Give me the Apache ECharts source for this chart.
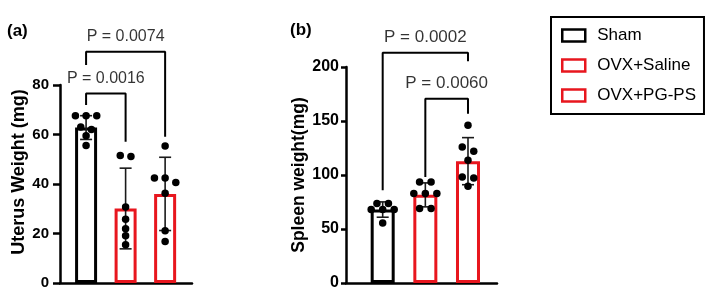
<!DOCTYPE html>
<html>
<head>
<meta charset="utf-8">
<script src="https://cdn.jsdelivr.net/npm/echarts@6/dist/echarts.min.js"></script>
<style>
  html, body { margin: 0; padding: 0; background: #fff; }
  #chart { width: 709px; height: 295px; }
</style>
</head>
<body>
<div id="chart"></div>
<script>
// groups shared by both panels
const GROUPS = ['Sham', 'OVX+Saline', 'OVX+PG-PS'];

// (a) uterus weight, mg
const uterusMean = [62.8, 30.1, 36.0];
const uterusSD = [4.8, 16.3, 14.8];
const uterusPoints = [
  [67.6, 67.6, 67.6, 63.0, 62.0, 59.5, 55.6],
  [51.5, 51.1, 30.7, 25.8, 21.9, 19.1, 15.5],
  [55.4, 42.4, 42.4, 40.6, 36.3, 21.1, 16.8],
];
const uterusTicks = [0, 20, 40, 60, 80];
// brackets: [from group, to group], bracket top, drop ends, p label
const uterusPairs = [[0, 1], [0, 2]];
const uterusBracketTop = [76.6, 93.4];
const uterusBracketEnds = [[71.9, 57.1], [88.1, 59.1]];
const uterusP = ['P = 0.0016', 'P = 0.0074'];

// (b) spleen weight, mg
const spleenMean = [68.0, 81.6, 112.8];
const spleenSD = [7.1, 11.1, 21.8];
const spleenPoints = [
  [73.5, 73.5, 68.0, 68.0, 68.0, 55.6],
  [93.5, 93.5, 82.8, 82.8, 82.8, 68.9, 68.9],
  [146.0, 125.9, 121.9, 113.6, 98.1, 97.2, 89.5],
];
const spleenTicks = [0, 50, 100, 150, 200];
const spleenPairs = [[0, 2], [1, 2]];
const spleenBracketTop = [213.3, 170.6];
const spleenBracketEnds = [[85.8, 205.3], [98.1, 156.8]];
const spleenP = ['P = 0.0002', 'P = 0.0060'];

const FONT = "'Liberation Sans', Arial, sans-serif";
const RED = '#e8161e';
const EDGE = ['#000', RED, RED];

// GraphPad-style spread: values closer than `thresh` sit side by side
function spread(vals, thresh, step) {
  const s = vals.slice().sort((a, b) => b - a);
  const out = [];
  let i = 0;
  while (i < s.length) {
    let j = i;
    while (j + 1 < s.length && s[j] - s[j + 1] < thresh) j++;
    const k = j - i + 1;
    for (let m = 0; m < k; m++) out.push([(m - (k - 1) / 2) * step, s[i + m]]);
    i = j + 1;
  }
  return out;
}

function errRender(params, api) {
  const x = api.value(0);
  const lo = api.coord([x, api.value(1)]);
  const hi = api.coord([x, api.value(2)]);
  const w = 6;
  const style = { stroke: '#1a1a1a', lineWidth: 1.6 };
  return {
    type: 'group',
    children: [
      { type: 'line', shape: { x1: hi[0], y1: hi[1], x2: lo[0], y2: lo[1] }, style },
      { type: 'line', shape: { x1: hi[0] - w, y1: hi[1], x2: hi[0] + w, y2: hi[1] }, style },
      { type: 'line', shape: { x1: lo[0] - w, y1: lo[1], x2: lo[0] + w, y2: lo[1] }, style },
    ],
  };
}

function panelSeries(idx, mean, sd, points, pairs, tops, ends, labels, o) {
  const series = [];
  GROUPS.forEach((g, i) => {
    series.push({
      name: g, type: 'bar', xAxisIndex: idx, yAxisIndex: idx,
      data: [[i, mean[i]]], barWidth: o.barWidth, barGap: '-100%',
      itemStyle: { color: '#fff', borderColor: EDGE[i], borderWidth: 3 },
      silent: true, z: 2,
    });
  });
  series.push({
    name: 'err' + idx, type: 'custom', xAxisIndex: idx, yAxisIndex: idx,
    data: mean.map((m, i) => [i, m - sd[i], m + sd[i]]),
    renderItem: errRender, z: 3, silent: true,
  });
  const dots = [];
  points.forEach((vals, i) => {
    spread(vals, o.thresh, o.step).forEach(([dx, v]) => dots.push([i + dx, v]));
  });
  series.push({
    name: 'dots' + idx, type: 'scatter', xAxisIndex: idx, yAxisIndex: idx,
    data: dots, symbolSize: 7.5, itemStyle: { color: '#000', opacity: 1 },
    z: 4, silent: true, clip: false,
  });
  pairs.forEach(([a, b], k) => {
    series.push({
      name: 'br' + idx + k, type: 'line', xAxisIndex: idx, yAxisIndex: idx,
      data: [[a, ends[k][0]], [a, tops[k]], [b, tops[k]], [b, ends[k][1]]],
      showSymbol: false, clip: false, silent: true,
      lineStyle: { color: '#000', width: 2 }, z: 3,
    });
  });
  series.push({
    name: 'p' + idx, type: 'scatter', xAxisIndex: idx, yAxisIndex: idx,
    data: pairs.map(([a, b], k) => ({ value: [(a + b) / 2, tops[k]], label: { formatter: labels[k] } })),
    symbolSize: 0, clip: false, silent: true,
    label: { show: true, position: 'top', distance: 7, color: '#000', fontSize: o.pSize, fontFamily: FONT },
  });
  return series;
}

function yAxis(idx, ticks, name, o) {
  return {
    type: 'value', gridIndex: idx,
    min: ticks[0], max: ticks[ticks.length - 1], interval: ticks[1] - ticks[0],
    name, nameLocation: 'middle', nameGap: o.nameGap,
    nameTextStyle: { color: '#000', fontSize: o.nameSize, fontWeight: 'bold', fontFamily: FONT, padding: o.namePad },
    axisLine: { show: true, onZero: false, lineStyle: { color: '#000', width: 2.5 } },
    axisTick: { show: true, length: o.tickLen, lineStyle: { color: '#000', width: 2.5 } },
    axisLabel: { color: '#000', fontSize: o.labelSize, fontWeight: 'bold', fontFamily: FONT, margin: o.labelMargin },
    splitLine: { show: false },
  };
}

function xAxis(idx, min, max) {
  return {
    type: 'value', gridIndex: idx, min, max,
    axisLine: { show: true, lineStyle: { color: '#000', width: 2.5 } },
    axisTick: { show: false }, axisLabel: { show: false }, splitLine: { show: false },
  };
}

const chart = echarts.init(document.getElementById('chart'), null, { renderer: 'canvas' });
chart.setOption({
  animation: false,
  backgroundColor: '#fff',
  title: [
    { text: '(a)', left: 2, top: 18, textStyle: { fontSize: 17, fontWeight: 'bold', color: '#000', fontFamily: FONT } },
    { text: '(b)', left: 285, top: 17, textStyle: { fontSize: 17, fontWeight: 'bold', color: '#000', fontFamily: FONT } },
  ],
  legend: {
    orient: 'vertical', left: 551, top: 17,
    borderColor: '#000', borderWidth: 2, padding: [10, 8, 10, 10],
    itemGap: 13, itemWidth: 23, itemHeight: 12, icon: 'rect',
    selectedMode: false,
    textStyle: { fontSize: 17, color: '#000', fontFamily: FONT, padding: [0, 0, 0, 7] },
    data: GROUPS.map((g, i) => ({ name: g, itemStyle: { color: '#fff', borderColor: EDGE[i], borderWidth: 2.5 } })),
  },
  grid: [
    { left: 60, top: 85, width: 132, height: 198 },
    { left: 346, top: 67, width: 151, height: 216 },
  ],
  xAxis: [xAxis(0, -0.66, 2.68), xAxis(1, -0.86, 2.68)],
  yAxis: [
    yAxis(0, uterusTicks, 'Uterus Weight (mg)', { nameGap: 32, nameSize: 18, namePad: [0, 0, 0, 24], tickLen: 7, labelSize: 15, labelMargin: 11 }),
    yAxis(1, spleenTicks, 'Spleen weight(mg)', { nameGap: 36, nameSize: 17.5, namePad: 0, tickLen: 5, labelSize: 16, labelMargin: 7 }),
  ],
  series: [
    ...panelSeries(0, uterusMean, uterusSD, uterusPoints, uterusPairs, uterusBracketTop, uterusBracketEnds, uterusP,
      { barWidth: 22, thresh: 2.2, step: 0.27, pSize: 16 }),
    ...panelSeries(1, spleenMean, spleenSD, spleenPoints, spleenPairs, spleenBracketTop, spleenBracketEnds, spleenP,
      { barWidth: 24, thresh: 5, step: 0.27, pSize: 17 }),
  ],
});
</script>
</body>
</html>
